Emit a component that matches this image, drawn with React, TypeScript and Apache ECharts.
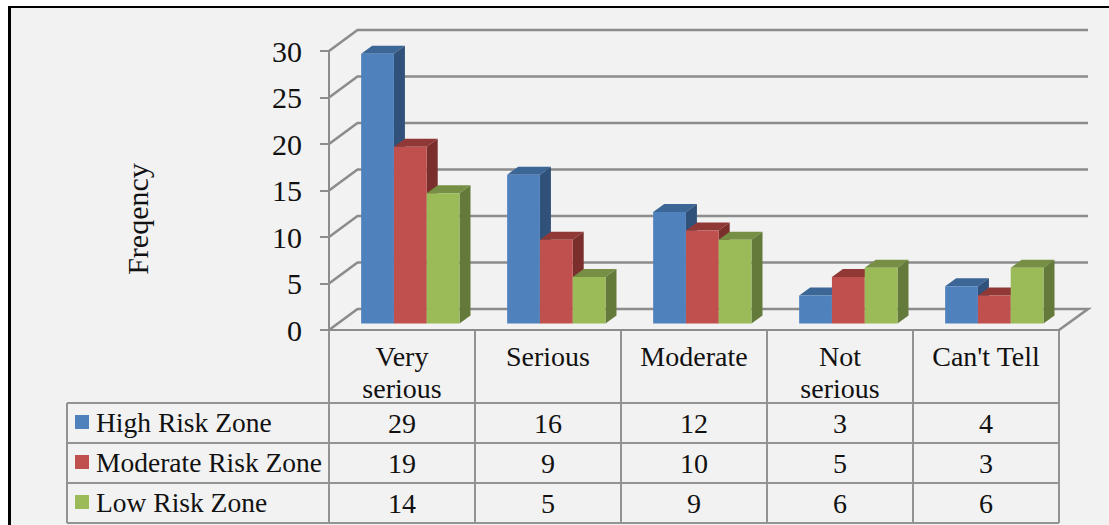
import React, { useEffect, useRef } from "react";
import * as echarts from "echarts";

const categories = ["Very\nserious", "Serious", "Moderate", "Not\nserious", "Can't Tell"];
const seriesNames = ["High Risk Zone", "Moderate Risk Zone", "Low Risk Zone"];
const highRisk = [29, 16, 12, 3, 4];
const moderateRisk = [19, 9, 10, 5, 3];
const lowRisk = [14, 5, 9, 6, 6];
const gridValues = [0, 5, 10, 15, 20, 25, 30];

const FONT = '"Liberation Serif", "Times New Roman", serif';
const INK = "#111111";
const RULE = "#8c8c8c";

// Front, top and side shades of each 3D column.
const shades = [
  { front: "#4f81bd", top: "#3c6696", side: "#30527a" },
  { front: "#c0504d", top: "#8f3835", side: "#7a2f2d" },
  { front: "#9bbb59", top: "#768f44", side: "#647a3a" },
];

// Plot box and the pseudo-3D offsets of the wall, floor and columns.
const W = 1109;
const H = 525;
const PLOT = { left: 329, right: 1059, top: 51, bottom: 330 };
const WALL = { dx: 28.5, dy: 21 };
const COLUMN = { shiftX: 0.057, liftY: 6.5, depthX: 11, depthY: 8, width: 0.2245 };

// Data table layout below the plot.
const TABLE = { left: 67, rows: [403, 443, 483, 523], rowMid: [423, 463, 503] };

function renderGrid(params: any, api: any) {
  const cs = params.coordSys;
  const y = api.coord([0, api.value(1)])[1];
  const x = cs.x;
  const points = [
    [x, y],
    [x + WALL.dx, y - WALL.dy],
    [x + cs.width + 29, y - WALL.dy],
  ];
  if (api.value(1) === 0) points.push([x + cs.width, y]);
  return {
    type: "polyline",
    shape: { points },
    style: { stroke: RULE, lineWidth: 2.6, fill: "none" },
  };
}

function renderColumn(idx: number) {
  return (_params: any, api: any) => {
    const base = api.coord([api.value(0), 0]);
    const tip = api.coord([api.value(0), api.value(1)]);
    const band = api.size([1, 0])[0];
    const w = band * COLUMN.width;
    const x0 = base[0] + band * COLUMN.shiftX - 1.5 * w + idx * w;
    const x1 = x0 + w;
    const yb = base[1] - COLUMN.liftY;
    const yt = tip[1] - COLUMN.liftY;
    const { depthX: dx, depthY: dy } = COLUMN;
    const c = shades[idx];
    return {
      type: "group",
      children: [
        { type: "polygon", shape: { points: [[x0, yt], [x1, yt], [x1 + dx, yt - dy], [x0 + dx, yt - dy]] }, style: { fill: c.top } },
        { type: "polygon", shape: { points: [[x1, yt], [x1 + dx, yt - dy], [x1 + dx, yb - dy], [x1, yb]] }, style: { fill: c.side } },
        { type: "rect", shape: { x: x0, y: yt, width: w, height: yb - yt }, style: { fill: c.front } },
      ],
    };
  };
}

function tableLine(x1: number, y1: number, x2: number, y2: number) {
  return { type: "line", shape: { x1, y1, x2, y2 }, style: { stroke: "#939393", lineWidth: 2 } };
}

function buildGraphic() {
  const band = (PLOT.right - PLOT.left) / categories.length;
  const elements: any[] = [
    { type: "rect", shape: { x: 9, y: 7, width: W - 9, height: H - 7 }, style: { fill: "#f2f2f2" } },
    { type: "rect", shape: { x: 8, y: 6, width: 3, height: H - 6 }, style: { fill: "#000000" } },
    { type: "rect", shape: { x: 8, y: 6, width: W - 8, height: 2 }, style: { fill: "#000000" } },
    {
      type: "text",
      x: 137,
      y: 219,
      rotation: Math.PI / 2,
      style: { text: "Freqency", font: `30px ${FONT}`, fill: INK, textAlign: "center", textVerticalAlign: "middle" },
    },
  ];
  for (let i = 0; i <= categories.length; i++) {
    const x = PLOT.left + i * band;
    elements.push(tableLine(x, PLOT.bottom, x, TABLE.rows[3]));
  }
  elements.push(tableLine(TABLE.left, TABLE.rows[0], TABLE.left, TABLE.rows[3]));
  TABLE.rows.forEach((y) => elements.push(tableLine(TABLE.left, y, PLOT.right, y)));
  [highRisk, moderateRisk, lowRisk].forEach((row, r) => {
    row.forEach((v, c) => {
      elements.push({
        type: "text",
        x: PLOT.left + (c + 0.5) * band,
        y: TABLE.rowMid[r],
        style: { text: String(v), font: `28px ${FONT}`, fill: INK, textAlign: "center", textVerticalAlign: "middle" },
      });
    });
  });
  return elements;
}

export default function App() {
  const ref = useRef<HTMLDivElement>(null);

  useEffect(() => {
    const chart = echarts.init(ref.current!, undefined, { renderer: "svg" });
    const rows = [highRisk, moderateRisk, lowRisk];
    chart.setOption({
      animation: false,
      backgroundColor: "#ffffff",
      graphic: { elements: buildGraphic() },
      grid: {
        left: PLOT.left,
        top: PLOT.top,
        width: PLOT.right - PLOT.left,
        height: PLOT.bottom - PLOT.top,
      },
      legend: {
        orient: "vertical",
        left: 75,
        top: 408,
        padding: 0,
        itemWidth: 14,
        itemHeight: 14,
        itemGap: 12,
        selectedMode: false,
        icon: "rect",
        data: seriesNames,
        textStyle: { fontFamily: FONT, fontSize: 27.5, color: INK, padding: [0, 0, 0, 2] },
      },
      xAxis: {
        type: "category",
        data: categories,
        axisLine: { show: true, lineStyle: { color: RULE, width: 2 } },
        axisTick: { show: false },
        axisLabel: {
          interval: 0,
          margin: 10,
          fontFamily: FONT,
          fontSize: 28,
          lineHeight: 32,
          color: INK,
          verticalAlign: "top",
        },
      },
      yAxis: {
        type: "value",
        min: 0,
        max: 30,
        interval: 5,
        splitLine: { show: false },
        axisLine: { show: true, lineStyle: { color: RULE, width: 2 } },
        axisTick: { show: true, length: 9, lineStyle: { color: RULE, width: 2 } },
        axisLabel: { margin: 27, fontFamily: FONT, fontSize: 30, color: INK },
      },
      series: [
        {
          type: "custom",
          name: "walls",
          silent: true,
          clip: false,
          z: 1,
          renderItem: renderGrid,
          encode: { x: 0, y: 1 },
          data: gridValues.map((v) => [0, v]),
        },
        ...rows.map((values, idx) => ({
          type: "custom",
          name: seriesNames[idx],
          clip: false,
          z: 3 + idx,
          itemStyle: { color: shades[idx].front },
          renderItem: renderColumn(idx),
          encode: { x: 0, y: 1 },
          data: values.map((v, i) => [i, v]),
        })),
      ],
    });
    return () => chart.dispose();
  }, []);

  return <div ref={ref} style={{ position: "absolute", left: 0, top: 0, width: W, height: H }} />;
}
